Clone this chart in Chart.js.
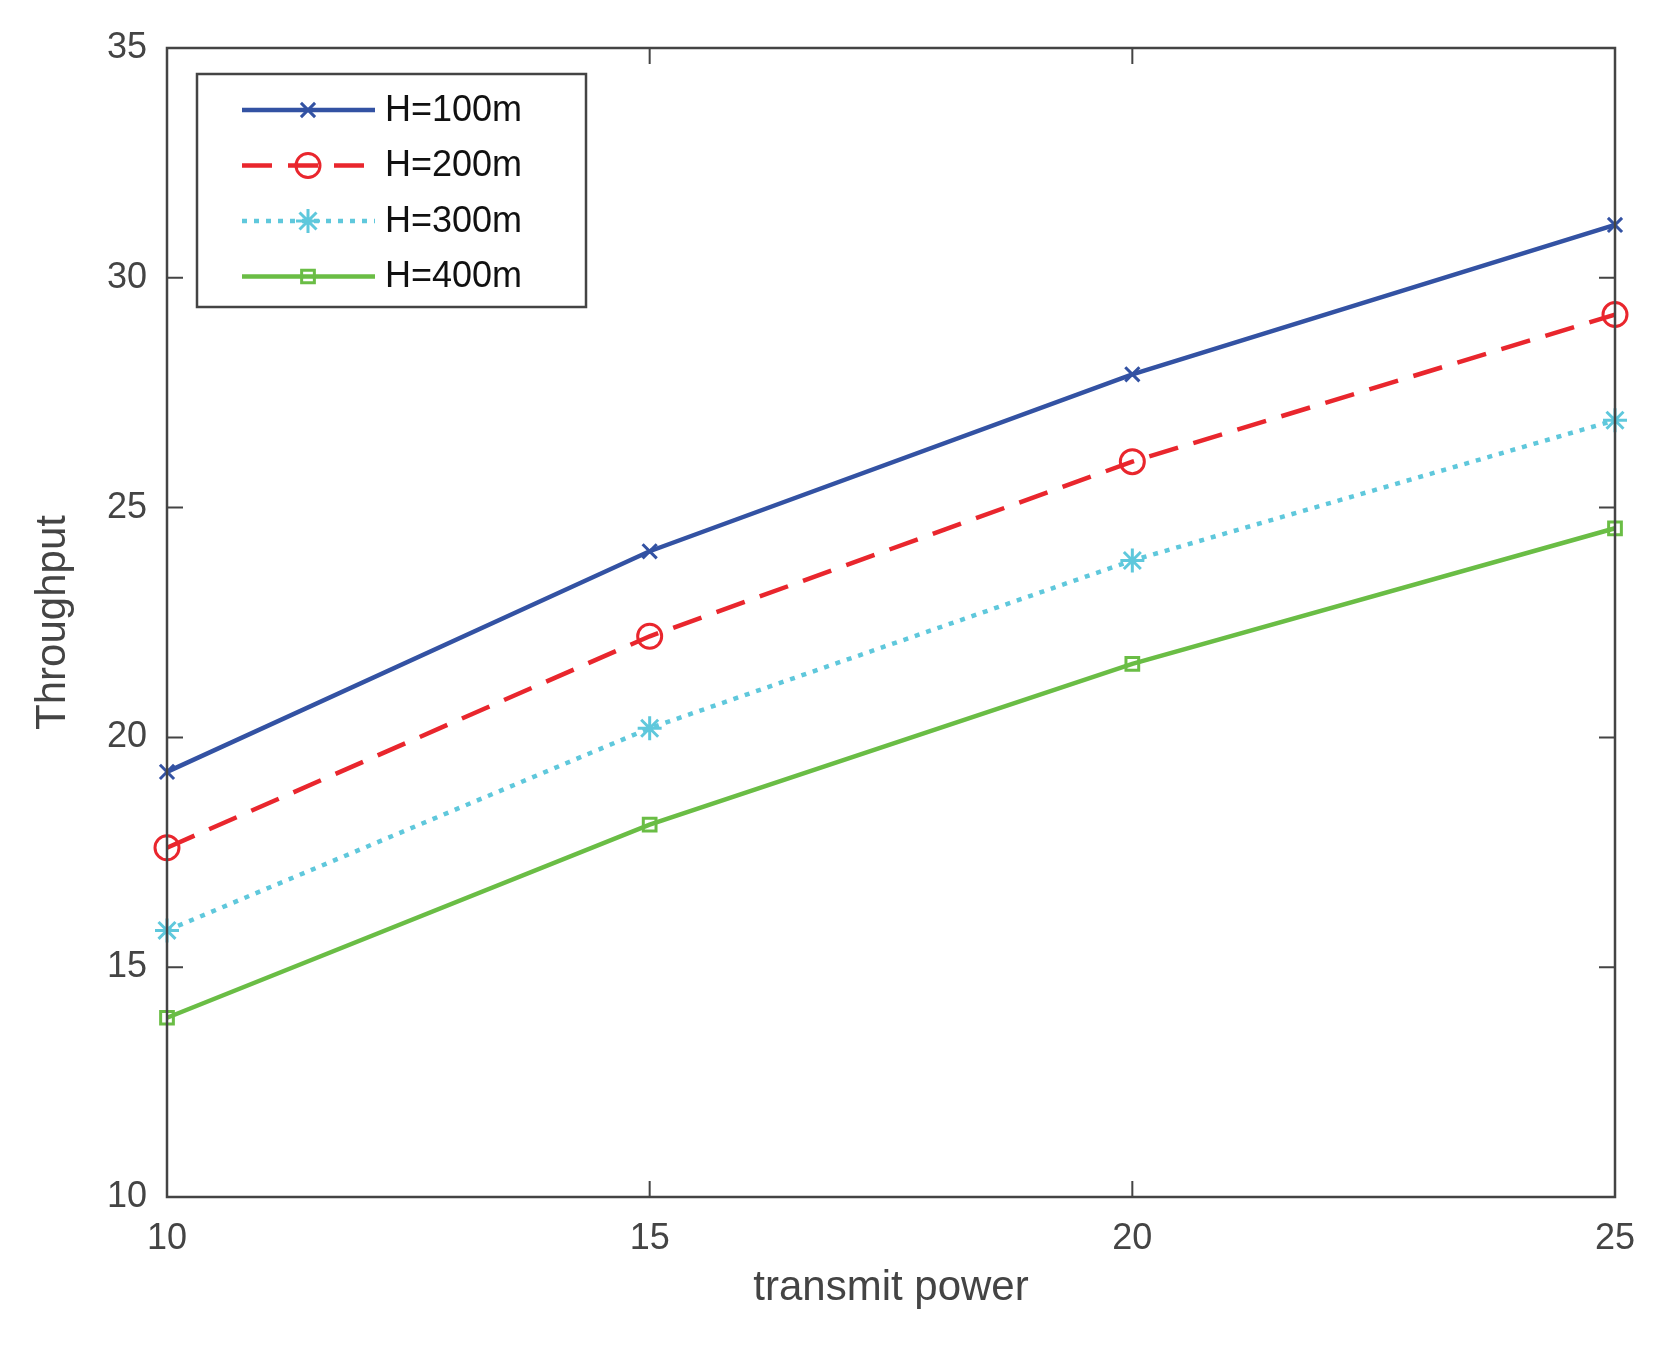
<!DOCTYPE html>
<html><head><meta charset="utf-8">
<script src="https://cdn.jsdelivr.net/npm/chart.js@4"></script>
<style>html,body{margin:0;padding:0;background:#fff}#w{width:1661px;height:1364px}</style>
</head><body><div id="w"><canvas id="c"></canvas></div>
<script>
const xValues = [10, 15, 20, 25];
const h100 = [19.25, 24.05, 27.9, 31.15];
const h200 = [17.6, 22.2, 26.0, 29.2];
const h300 = [15.8, 20.2, 23.85, 26.9];
const h400 = [13.9, 18.1, 21.6, 24.55];
const labels = ['H=100m', 'H=200m', 'H=300m', 'H=400m'];
const C = '#444';
const F = 'Arial, "Liberation Sans", sans-serif';
const mk = (l, d, col, ps, dash, r) => ({label: l, data: xValues.map((x, i) => ({x, y: d[i]})),
  borderColor: col, backgroundColor: 'rgba(0,0,0,0)', pointBackgroundColor: 'rgba(0,0,0,0)', pointBorderColor: col, borderWidth: 4.5, borderDash: dash,
  pointStyle: ps, pointRadius: r, pointBorderWidth: 3, tension: 0, clip: false});
const datasets = [
  mk(labels[0], h100, '#3352a3', 'crossRot', [], 10),
  mk(labels[1], h200, '#e9262d', 'circle', [30, 16], 12),
  mk(labels[2], h300, '#5fc8dc', 'star', [5, 7], 12),
  mk(labels[3], h400, '#6abd45', 'rect', [], 9),
];
const deco = {id: 'deco', afterDraw(ch) {
  const ctx = ch.ctx, a = ch.chartArea, xs = ch.scales.x, ys = ch.scales.y;
  ctx.save(); ctx.strokeStyle = C; ctx.lineWidth = 2.5;
  ctx.strokeRect(a.left, a.top, a.right - a.left, a.bottom - a.top);
  ctx.lineWidth = 2;
  xValues.forEach(v => { const p = xs.getPixelForValue(v); ctx.beginPath(); ctx.moveTo(p, a.bottom); ctx.lineTo(p, a.bottom - 16); ctx.moveTo(p, a.top); ctx.lineTo(p, a.top + 16); ctx.stroke(); });
  [10,15,20,25,30,35].forEach(v => { const p = ys.getPixelForValue(v); ctx.beginPath(); ctx.moveTo(a.left, p); ctx.lineTo(a.left + 16, p); ctx.moveTo(a.right, p); ctx.lineTo(a.right - 16, p); ctx.stroke(); });
  const lx = 197, ly = 74, lw = 389, lh = 233;
  ctx.fillStyle = '#fff'; ctx.fillRect(lx, ly, lw, lh);
  ctx.strokeStyle = C; ctx.lineWidth = 2.5; ctx.strokeRect(lx, ly, lw, lh);
  ctx.font = '36px ' + F; ctx.textBaseline = 'middle';
  ch.data.datasets.forEach((d, i) => {
    const y = 110 + i * 55.5;
    ctx.strokeStyle = d.borderColor; ctx.lineWidth = 4.5; ctx.setLineDash(d.borderDash);
    ctx.beginPath(); ctx.moveTo(242, y); ctx.lineTo(375, y); ctx.stroke(); ctx.setLineDash([]);
    ctx.lineWidth = 3; ctx.fillStyle = 'rgba(0,0,0,0)';
    Chart.helpers.drawPoint(ctx, {pointStyle: d.pointStyle, radius: d.pointRadius, borderWidth: 3}, 308, y);
    ctx.fillStyle = '#111'; ctx.fillText(d.label, 385, y + 1);
  });
  ctx.restore();
}};
new Chart(document.getElementById('c'), {
  type: 'line', data: {datasets},
  options: {responsive: true, maintainAspectRatio: false, animation: false,
    layout: {padding: {top: 48, right: 46, left: 24, bottom: 46}},
    plugins: {legend: {display: false}, tooltip: {enabled: false}},
    scales: {
      x: {type: 'linear', min: 10, max: 25, afterFit(s) { s.height = 121; },
        ticks: {stepSize: 5, color: C, font: {size: 36, family: F}, padding: 12},
        grid: {display: false}, border: {display: false},
        title: {display: true, text: 'transmit power', color: C, font: {size: 42, family: F}, padding: {top: 4}}},
      y: {min: 10, max: 35, afterFit(s) { s.width = 143; },
        ticks: {stepSize: 5, color: C, font: {size: 36, family: F}, padding: 12},
        grid: {display: false}, border: {display: false},
        title: {display: true, text: 'Throughput', color: C, font: {size: 42, family: F}, padding: {bottom: 6}}}
    }},
  plugins: [deco]
});
</script></body></html>
